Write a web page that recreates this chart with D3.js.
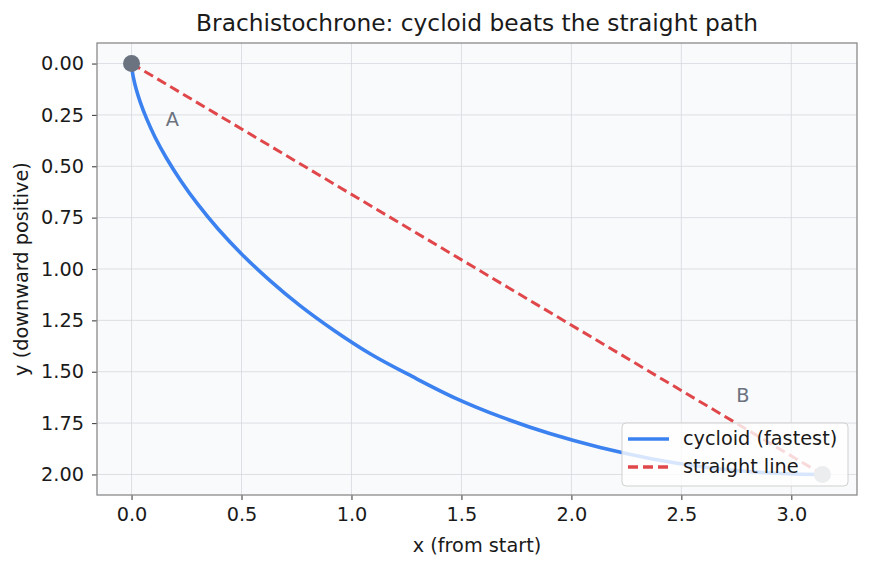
<!DOCTYPE html>
<html>
<head>
<meta charset="utf-8">
<script src="https://cdn.jsdelivr.net/npm/d3@7"></script>
<style>
  body { margin: 0; background: #fff; }
  svg text { font-family: "DejaVu Sans", sans-serif; }
</style>
</head>
<body>
<div id="chart"></div>
<script>
// points read along the cycloid path (x from start, y downward)
const cycloidX = [0, 0.0003, 0.0026, 0.0087, 0.0206, 0.0400, 0.0684, 0.1069, 0.1585, 0.2230, 0.3010, 0.3937,
  0.5025, 0.6270, 0.7660, 0.9210, 1.0907, 1.2760, 1.4719, 1.6800, 1.9015, 2.1310, 2.3683, 2.6110, 2.8589, 3.0080, 3.1416];
const cycloidY = [0, 0.0078, 0.0311, 0.0698, 0.1224, 0.1887, 0.2683, 0.3586, 0.4597, 0.5690, 0.6847, 0.8055,
  0.9293, 1.0540, 1.1782, 1.2990, 1.4161, 1.5230, 1.6282, 1.7200, 1.8011, 1.8690, 1.9243, 1.9650, 1.9900, 1.9980, 2.0];
const lineX = [0, 3.1416];
const lineY = [0, 2.0];
const xTicks = [0, 0.5, 1.0, 1.5, 2.0, 2.5, 3.0];
const yTicks = [0, 0.25, 0.5, 0.75, 1.0, 1.25, 1.5, 1.75, 2.0];
const pointLabels = ["A", "B"];
const labelX = [0.185, 2.78];
const labelY = [0.275, 1.62];
const legendNames = ["cycloid (fastest)", "straight line"];

const width = 871, height = 569;
const marginLeft = 97, marginRight = 14, marginTop = 43, marginBottom = 74;
const fs = "19.3px";

const svg = d3.select("#chart").append("svg")
    .attr("width", width)
    .attr("height", height);

const x = d3.scaleLinear([-0.1571, 3.2987], [marginLeft, width - marginRight]);
const y = d3.scaleLinear([-0.1, 2.1], [marginTop, height - marginBottom]);

// plot background
svg.append("rect")
    .attr("x", marginLeft).attr("y", marginTop)
    .attr("width", width - marginLeft - marginRight)
    .attr("height", height - marginTop - marginBottom)
    .attr("fill", "#f9fafb");

// grid
svg.append("g")
    .attr("stroke", "#d4d8dd")
    .attr("stroke-width", 0.8)
  .call(g => g.selectAll(".vx").data(xTicks).join("line")
      .attr("x1", d => x(d)).attr("x2", d => x(d))
      .attr("y1", marginTop).attr("y2", height - marginBottom))
  .call(g => g.selectAll(".hy").data(yTicks).join("line")
      .attr("y1", d => y(d)).attr("y2", d => y(d))
      .attr("x1", marginLeft).attr("x2", width - marginRight));

// axes
const xAxis = svg.append("g")
    .attr("transform", `translate(0,${height - marginBottom})`)
    .call(d3.axisBottom(x).tickValues(xTicks).tickFormat(d3.format(".1f")).tickSize(5).tickPadding(7).tickSizeOuter(0));
const yAxis = svg.append("g")
    .attr("transform", `translate(${marginLeft},0)`)
    .call(d3.axisLeft(y).tickValues(yTicks).tickFormat(d3.format(".2f")).tickSize(5).tickPadding(8).tickSizeOuter(0));
[xAxis, yAxis].forEach(a => {
  a.select(".domain").remove();
  a.selectAll(".tick line").attr("stroke", "#444").attr("stroke-width", 1.1);
  a.selectAll(".tick text").attr("fill", "#1a1a1a").style("font-size", fs);
});

// frame
svg.append("rect")
    .attr("x", marginLeft).attr("y", marginTop)
    .attr("width", width - marginLeft - marginRight)
    .attr("height", height - marginTop - marginBottom)
    .attr("fill", "none")
    .attr("stroke", "#8a8a8a")
    .attr("stroke-width", 1.3);

// paths
const cyc = d3.range(cycloidX.length).map(i => [cycloidX[i], cycloidY[i]]);
svg.append("path")
    .datum(cyc)
    .attr("fill", "none")
    .attr("stroke", "#3b82f0")
    .attr("stroke-width", 3.6)
    .attr("d", d3.line().x(d => x(d[0])).y(d => y(d[1])).curve(d3.curveCatmullRom));

svg.append("path")
    .datum(d3.range(lineX.length).map(i => [lineX[i], lineY[i]]))
    .attr("fill", "none")
    .attr("stroke", "#e0474b")
    .attr("stroke-width", 3)
    .attr("stroke-dasharray", "10,5")
    .attr("d", d3.line().x(d => x(d[0])).y(d => y(d[1])));

// endpoints
svg.append("circle").attr("cx", x(lineX[0])).attr("cy", y(lineY[0])).attr("r", 8.5).attr("fill", "#6b7280");
svg.append("circle").attr("cx", x(lineX[1])).attr("cy", y(lineY[1])).attr("r", 8.5).attr("fill", "#9ca3af");

// point labels
svg.append("g").selectAll("text").data(pointLabels).join("text")
    .attr("x", (d, i) => x(labelX[i]))
    .attr("y", (d, i) => y(labelY[i]))
    .attr("text-anchor", "middle")
    .attr("dominant-baseline", "middle")
    .attr("fill", "#6b7280")
    .style("font-size", fs)
    .text(d => d);

// legend
const lg = svg.append("g").attr("transform", "translate(622,423)");
lg.append("rect")
    .attr("width", 226).attr("height", 63)
    .attr("rx", 4)
    .attr("fill", "#fff").attr("fill-opacity", 0.8)
    .attr("stroke", "#d0d0d0");
const legendColors = ["#3b82f0", "#e0474b"];
const legendDash = [null, "10,5"];
legendNames.forEach((name, i) => {
  const ly = 16 + i * 28;
  lg.append("line")
      .attr("x1", 6).attr("x2", 47).attr("y1", ly).attr("y2", ly)
      .attr("stroke", legendColors[i]).attr("stroke-width", 3.4)
      .attr("stroke-dasharray", legendDash[i]);
  lg.append("text")
      .attr("x", 61).attr("y", ly)
      .attr("dominant-baseline", "middle")
      .attr("fill", "#1a1a1a")
      .style("font-size", fs)
      .text(name);
});

// titles
svg.append("text")
    .attr("x", (marginLeft + width - marginRight) / 2)
    .attr("y", 31)
    .attr("text-anchor", "middle")
    .attr("fill", "#1a1a1a")
    .style("font-size", "23.3px")
    .text("Brachistochrone: cycloid beats the straight path");
svg.append("text")
    .attr("x", (marginLeft + width - marginRight) / 2)
    .attr("y", 552)
    .attr("text-anchor", "middle")
    .attr("fill", "#1a1a1a")
    .style("font-size", fs)
    .text("x (from start)");
svg.append("text")
    .attr("transform", `translate(28,${(marginTop + height - marginBottom) / 2}) rotate(-90)`)
    .attr("text-anchor", "middle")
    .attr("fill", "#1a1a1a")
    .style("font-size", fs)
    .text("y (downward positive)");
</script>
</body>
</html>
